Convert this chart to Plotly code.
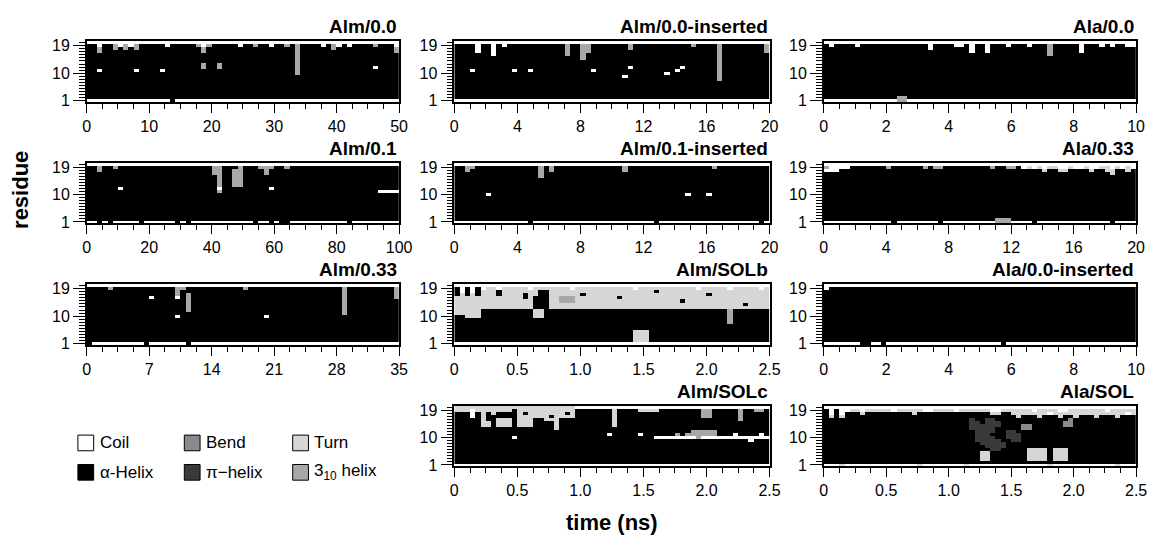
import plotly.graph_objects as go

# ---------------- data ----------------
STATE_CODES = ["C", "B", "T", "H", "P", "G"]
STATE_NAMES = ["Coil", "Bend", "Turn", "α-Helix", "π−helix", "3<sub>10</sub> helix"]
STATE_COLORS = ["#ffffff", "#8a8a8a", "#d6d6d6", "#000000", "#3a3a3a", "#a8a8a8"]

PANEL_TITLES = ["Alm/0.0", "Alm/0.0-inserted", "Ala/0.0",
                "Alm/0.1", "Alm/0.1-inserted", "Ala/0.33",
                "Alm/0.33", "Alm/SOLb", "Ala/0.0-inserted",
                "Alm/SOLc", "Ala/SOL"]
PANEL_TMAX = [50, 20, 10, 100, 20, 20, 35, 2.5, 10, 2.5, 2.5]
PANEL_DTICK = [10, 4, 2, 20, 4, 4, 7, 0.5, 2, 0.5, 0.5]
RESIDUE_TICKS = [1, 10, 19]

# each panel: rows of DSSP states, residue 20 (top) down to residue 1, time left->right
H60 = "HHHHHHHHHH HHHHHHHHHH HHHHHHHHHH HHHHHHHHHH HHHHHHHHHH HHHHHHHHHH"
C60 = "CCCCCCCCCC CCCCCCCCCC CCCCCCCCCC CCCCCCCCCC CCCCCCCCCC CCCCCCCCCC"

ALM_00 = [
    C60,
    "HHCHHGCGCG HHHHHCHHHH HGCGHHHHHC HHGHHCHHGH GHHHHCHGCH CHHHHGHHHC",
    "HHGHHGHGHG HHHHHHHHHH HHGHHHHHHH HHHHHHHHHH GHHHHHHGHH HHHHHHHHHG",
    "HHGHHHHHHH HHHHHHHHHH HHGHHHHHHH HHHHHHHHHH GHHHHHHHHH HHHHHHHHHG",
    "HHHHHHHHHH HHHHHHHHHH HHHHHHHHHH HHHHHHHHHH GHHHHHHHHH HHHHHHHHHH",
    "HHHHHHHHHH HHHHHHHHHH HHHHHHHHHH HHHHHHHHHH GHHHHHHHHH HHHHHHHHHH",
    "HHHHHHHHHH HHHHHHHHHH HHHHHHHHHH HHHHHHHHHH GHHHHHHHHH HHHHHHHHHH",
    "HHHHHHHHHH HHHHHHHHHH HHGHHGHHHH HHHHHHHHHH GHHHHHHHHH HHHHHHHHHH",
    "HHHHHHHHHH HHHHHHHHHH HHGHHGHHHH HHHHHHHHHH GHHHHHHHHH HHHHHCHHHH",
    "HHCHHHHHHC HHHHCHHHHH HHHHHHHHHH HHHHHHHHHH GHHHHHHHHH HHHHHHHHHH",
    "HHHHHHHHHH HHHHHHHHHH HHHHHHHHHH HHHHHHHHHH GHHHHHHHHH HHHHHHHHHH",
    H60, H60, H60, H60, H60, H60, H60, H60,
    "CCCCCCCCCC CCCCCCHCCC CCCCCCCCCC CCCCCCCCCC CCCCCCCCCC CCCCCCCCCC",
]

ALM_00_INS = [
    C60,
    "HHHHCHHCHC HHHHHHHHHH HGHHGGHHHH HHHGHHHHHH HHHHHGHHHH GHHHHHHHHG",
    "HHHHCHHCHH HHHHHHHHHH HGHHGGHHHH HHHGHHHHHH HHHHHHHHHH GHHHHHHHHG",
    "HHHHCHHCHH HHHHHHHHHH HGHHGGHHHH HHHHHHHHHH HHHHHHHHHH GHHHHHHHHG",
    "HHHHHHHCHH HHHHHHHHHH HGHHGHHHHH HHHHHHHHHH HHHHHHHHHH GHHHHHHHHH",
    "HHHHHHHHHH HHHHHHHHHH HHHHGHHHHH HHHHHHHHHH HHHHHHHHHH GHHHHHHHHH",
    "HHHHHHHHHH HHHHHHHHHH HHHHHHHHHH HHHHHHHHHH HHHHHHHHHH GHHHHHHHHH",
    "HHHHHHHHHH HHHHHHHHHH HHHHHHHHHH HHHHHHHHHH HHHHHHHHHH GHHHHHHHHH",
    "HHHHHHHHHH HHHHHHHHHH HHHHHHHHHH HHHCHHHHHH HHHCHHHHHH GHHHHHHHHH",
    "HHHCHHHHHH HCHHCHHHHH HHHHHHCHHH HHHHHHHHHH HHCHHHHHHH GHHHHHHHHH",
    "HHHHHHHHHH HHHHHHHHHH HHHHHHHHHH HHHHHHHHHH CHHHHHHHHH GHHHHHHHHH",
    "HHHHHHHHHH HHHHHHHHHH HHHHHHHHHH HHCHHHHHHH HHHHHHHHHH GHHHHHHHHH",
    "HHHHHHHHHH HHHHHHHHHH HHHHHHHHHH HHHHHHHHHH HHHHHHHHHH GHHHHHHHHH",
    H60, H60, H60, H60, H60, H60,
    C60,
]

ALA_00 = [
    C60,
    "HCHHHHCHHH HHHHHHHHHH CHHHHCCHCH HCHHHCHHHC HHHGHHHHHC HHHCHCHHCC",
    "HHHHHHHHHH HHHHHHHHHH CHHHHHHHCH HCHHHHHHHH HHHGHHHHHC HHHHHHHHHH",
    "HHHHHHHHHH HHHHHHHHHH HHHHHHHHCH HCHHHHHHHH HHHGHHHHHC HHHHHHHHHH",
    "HHHHHHHHHH HHHHHHHHHH HHHHHHHHHH HHHHHHHHHH HHHGHHHHHH HHHHHHHHHH",
    H60, H60, H60, H60, H60, H60, H60, H60, H60, H60, H60, H60, H60,
    "HHHHHHHHHH HHHHGGHHHH HHHHHHHHHH HHHHHHHHHH HHHHHHHHHH HHHHHHHHHH",
    "CCCCCCCCCC CCCCGGCCCC CCCCCCCCCC CCCCCCCCCC CCCCCCCCCC CCCCCCCCCC",
]

ALM_01 = [
    C60,
    "HHGHHGHHHH HHHHHHHHHH HHHHGGHHHG HHHGGGHHGH HHHHHHHHHH HHHHHHHHHH",
    "HHGHHHHHHH HHHHHHHHHH HHHHGGHHGG HHHHGHHHHH HHHHHHHHHH HHHHHHHHHH",
    "HHHHHHHHHH HHHHHHHHHH HHHHGGHHGG HHHHGHHHHH HHHHHHHHHH HHHHHHHHHH",
    "HHHHHHHHHH HHHHHHHHHH HHHHHGHHGG HHHHHHHHHH HHHHHHHHHH HHHHHHHHHH",
    "HHHHHHHHHH HHHHHHHHHH HHHHHGHHGG HHHHHHHHHH HHHHHHHHHH HHHHHHHHHH",
    "HHHHHHHHHH HHHHHHHHHH HHHHHGHHGG HHHHHHHHHH HHHHHHHHHH HHHHHHHHHH",
    "HHHHHHHHHH HHHHHHHHHH HHHHHGHHGG HHHHHHHHHH HHHHHHHHHH HHHHHHHHHH",
    "HHHHHHCHHH HHHHHHHHHH HHHHHCHHHH HHHHHCHHHH HHHHHHHHHH HHHHHHHHHH",
    "HHHHHHHHHH HHHHHHHHHH HHHHHGHHHH HHHHHHHHHH HHHHHHHHHH HHHHHHCCCC",
    H60,
    H60, H60, H60, H60, H60, H60, H60, H60,
    "CCHCHCCCCC HCCCCCCHCH CCCCCCCCCC CCHCCHCHHC CCCCCCCCCC HCCCCCCCCC",
]

ALM_01_INS = [
    C60,
    "HHGGHHHHHH HHHHHHGHGH HHHHHHHHHH HHGHHHHHHH HHHHHHHHHG HHHHHHHHHH",
    "HHGHHHHHHH HHHHHHGHGH HHHHHHHHHH HHGHHHHHHH HHHHHHHHHH HHHHHHHHHH",
    "HHHHHHHHHH HHHHHHGHHH HHHHHHHHHH HHHHHHHHHH HHHHHHHHHH HHHHHHHHHH",
    "HHHHHHHHHH HHHHHHGHHH HHHHHHHHHH HHHHHHHHHH HHHHHHHHHH HHHHHHHHHH",
    H60, H60, H60, H60, H60,
    "HHHHHHCHHH HHHHHHHHHH HHHHHHHHHH HHHHHHHHHH HHHHCHHHCH HHHHHHHHHH",
    H60, H60, H60, H60, H60, H60, H60, H60,
    "CCCCCCCCCC CCCCHCCCCC CCCCCCCCCC CCCCCCCCHC CCCCCCCCCC CCCCCCCCHC",
]

ALA_033 = [
    C60,
    "GCCCCHHHHH HHGHHHHHHG HGGHHHHHHH HHGHHGGHCT CTCTTCCTCC TCCTTCTCTC",
    "CCCHHHHHHH HHHHHHHHHH HHHHHHHHHH HHHHHHHHHH HHTHHTTHHH HTHHTTHHTH",
    "HHHHHHHHHH HHHHHHHHHH HHHHHHHHHH HHHHHHHHHH HHHHHHHHHH HHHHHTHHHH",
    H60, H60, H60, H60, H60, H60, H60, H60, H60, H60, H60, H60, H60, H60,
    "HHHHHHHHHH HHHHHHHHHH HHHHHHHHHH HHHGGGHHHH HHHHHHHHHH HHHHHHHHHH",
    "CCCCCCCCCC CCCHCCCCCC CCHCCCCCCC CCCGGGCCCC HCCCCCCCCC CCCCCHCCCC",
]

ALM_033 = [
    C60,
    "HHHHGHHHHH HHHHHHHGGH HHHHHHHHHH GHHHHHHHHH HHHHHHHHHG HHHHHHHHHG",
    "HHHHHHHHHH HHHHHHHGHH HHHHHHHHHH HHHHHHHHHH HHHHHHHHHG HHHHHHHHHG",
    "HHHHHHHHHH HHHHHHHGHG HHHHHHHHHH HHHHHHHHHH HHHHHHHHHG HHHHHHHHHG",
    "HHHHHHHHHH HHCHHHHCHG HHHHHHHHHH HHHHHHHHHH HHHHHHHHHG HHHHHHHHHG",
    "HHHHHHHHHH HHHHHHHHHG HHHHHHHHHH HHHHHHHHHH HHHHHHHHHG HHHHHHHHHH",
    "HHHHHHHHHH HHHHHHHHHG HHHHHHHHHH HHHHHHHHHH HHHHHHHHHG HHHHHHHHHH",
    "HHHHHHHHHH HHHHHHHHHG HHHHHHHHHH HHHHHHHHHH HHHHHHHHHG HHHHHHHHHH",
    "HHHHHHHHHH HHHHHHHHHG HHHHHHHHHH HHHHHHHHHH HHHHHHHHHG HHHHHHHHHH",
    "HHHHHHHHHH HHHHHHHHHH HHHHHHHHHH HHHHHHHHHH HHHHHHHHHG HHHHHHHHHH",
    "HHHHHHHHHH HHHHHHHCHH HHHHHHHHHH HHHHCHHHHH HHHHHHHHHH HHHHHHHHHH",
    H60, H60, H60, H60, H60, H60, H60, H60,
    "HCCCCCCCCC CHCCCCCCCH CCCCCCCCCC CCCCCCCCCC CCCCCCCCCC CCCCCCCCCC",
]

ALM_SOLB = [
    C60,
    "HCHCHCTTCT TTTTCTTTTT TTCTTTTTTT TTTTCTTTTT TTTTTTCTTT TTCTTTTTCT",
    "HCHCHTTTHT TTTTTTHHTT TTTTTTTTTT TTTTTTTTHT TTTTTTTTTT TTTTTTTTTT",
    "HTHTHTTTHT TTTHTTHHTT TTTTHTTTTT TTTTTTTTTT TTTTTTTTHT TTTTTTTTTT",
    "TTTTTTTTTT TTTHTHHHTT GGGTTTTTTT THTTTTTTTT TTTTTTTTTT TTTTTTTTTT",
    "TTTTTTTTTT TTTTTHHHTT GGGTTTTTTT TTTTTTTTTT TTTHTTTTTT TTTTTTTTTT",
    "TTTTTTTTTT TTTTTHHHTT TTTTTTTTTT TTTTTTTTTT TTTTTTTTTT TTTTTHTTTT",
    "TTTTTTTTTT TTTTTHHHTT TTTTTTTTTT TTTTTTTTTT TTTTTTTTTT TTTTTTTTTT",
    "TTTTTHHHHH HHHHHTTHHH HHHHHHHHHH HHHHHHHHHH HHHHHHHHHH HHGHHHHHHH",
    "TTTTTHHHHH HHHHHTTHHH HHHHHHHHHH HHHHHHHHHH HHHHHHHHHH HHGHHHHHHH",
    "HHTTTHHHHH HHHHHTTHHH HHHHHHHHHH HHHHHHHHHH HHHHHHHHHH HHGHHHHHHH",
    "HHHHHHHHHH HHHHHHHHHH HHHHHHHHHH HHHHHHHHHH HHHHHHHHHH HHGHHHHHHH",
    "HHHHHHHHHH HHHHHHHHHH HHHHHHHHHH HHHHHHHHHH HHHHHHHHHH HHGHHHHHHH",
    H60, H60,
    "HHHHHHHHHH HHHHHHHHHH HHHHHHHHHH HHHHTTTHHH HHHHHHHHHH HHHHHHHHHH",
    "HHHHHHHHHH HHHHHHHHHH HHHHHHHHHH HHHHTTTHHH HHHHHHHHHH HHHHHHHHHH",
    "HHHHHHHHHH HHHHHHHHHH HHHHHHHHHH HHHHTTTHHH HHHHHHHHHH HHHHHHHHHH",
    "HHHHHHHHHH HHHHHHHHHH HHHHHHHHHH HHHHTTTHHH HHHHHHHHHH HHHHHHHHHH",
    C60,
]

ALA_00_INS = [
    C60,
    "CHHHHHHHHH HHHHHHHHHH HHHHHHHHHH HHHHHHHHHH HHHHHHHHHH HHHHHHHHHH",
    H60, H60, H60, H60, H60, H60, H60, H60, H60, H60, H60, H60, H60, H60, H60, H60, H60,
    "CCCCCCCHHC CHCCCCCCCC CCCCCCCCCC CCCCHCCCCC CCCCCCCCCC CCCCCCCCCC",
]

ALM_SOLC = [
    "TTTTTTTTTT TTTTTTTTTT TTTCCCCCCC CCCCCCCCCC CCCCCCCCCC CCCCCCCCCC",
    "TTTCTTTTTT THTTTTTTTT TTTHHHHHHH THHHHTTTTH HHHHHHHGGH HHHHGHHGGH",
    "HHHCHTHTHH HHTHTTTTTT THTHHHHHHH THHHHHHHHH HHHHHHHGGH HHHHGHHHHH",
    "HHHCHTHHHH HHTTTTTTHT TTTHHHHHHH THHHHHHHHH HHHHHHHGGH HHHHGHHHHH",
    "HHHHHTHHTT THTTTHHTTT HHHHHHHHHH THHHHHHHHH HHHHHHHHHH HHHHGHHHHH",
    "HHHHHTTHTT THTTTHHHHT HHHHHHHHHH THHHHHHHHH HHHHHHHHHH HHHHHHHHHH",
    "HHHHHTTHTT THTTTHHHHT HHHHHHHHHH THHHHHHHHH HHHHHHHHHH HHHHHHHHHH",
    "HHHHHHHHHH HHHHHHHHHT HHHHHHHHHH HHHHHHHHHH HHHHHHHHHH HHHHHHHHHH",
    "HHHHHHHHHH HHHHHHHHHH HHHHHHHHHH HHHHHHHHHH HHHHHGGGGG HHHHHHHHHH",
    "HHHHHHHHHH HHHHHHHHHH HHHHHHHHHC HHHHHCHHHH HHGHGGGGGG HHHCHHHHCH",
    "HHHHHHHHHH HCHHHHHHHH HHHHHHHHHH HHHHHHHHCC CCCCCCGCCC CCCCCCCCCC",
    "HHHHHHHHHH HHHHHHHHHH HHHHHHHHHH HHHHHHHHHH HHHHHHHHHH HHHHHHCHHH",
    H60, H60, H60, H60, H60, H60, H60,
    C60,
]

ALA_SOL = [
    C60,
    "HCHCCTTCTT TTTCTTTTTC CTTTTCTTTT TTCCTTTTTT CTTTTCCTTT TTTTCTTTTT",
    "HCHCHHHTHH HHHHHHHTHH HHHHHHHHHH HHTTHHTTTT TTTCTTTTTT TTTTTTTTCT",
    "HTHTHHHHHH HHHHHHHHHH HHHHHHHHHH HHHHHHHTHH HTHHHTHHTH HHTHHHTHHH",
    "HHHHHHHHHH HHHHHHHHHH HHHHHHHHPH HPPHHHHHHH HHHHHHHBHH HHHHHHHHHH",
    "HHHHHHHHHH HHHHHHHHHH HHHHHHHHPP HPPPHHHHHH HHHHHHBBHH HHHHHHHHHH",
    "HHHHHHHHHH HHHHHHHHHH HHHHHHHHPP PPPPHHHHBB HHHHHHBBHH HHHHHHHHHH",
    "HHHHHHHHHH HHHHHHHHHH HHHHHHHHPP PPPHHHHHBB HHHHHHHHHH HHHHHHHHHH",
    "HHHHHHHHHH HHHHHHHHHH HHHHHHHHHP PPPHHPPHHH HHHHHHHHHH HHHHHHHHHH",
    "HHHHHHHHHH HHHHHHHHHH HHHHHHHHHP PPHHHPPPHH HHHHHHHHHH HHHHHHHHHH",
    "HHHHHHHHHH HHHHHHHHHH HHHHHHHHHP PPPHHPPPHH HHHHHHHHHH HHHHHHHHHH",
    "HHHHHHHHHH HHHHHHHHHH HHHHHHHHHP PPPPHHPPHH HHHHHHHHHH HHHHHHHHHH",
    "HHHHHHHHHH HHHHHHHHHH HHHHHHHHHH PPPPPHHHHH HHHHHHHHHH HHHHHHHHHH",
    "HHHHHHHHHH HHHHHHHHHH HHHHHHHHHH HPPPPHHHHH HHHHHHHHHH HHHHHHHHHH",
    "HHHHHHHHHH HHHHHHHHHH HHHHHHHHHH HHPPHHHHHT TTTHTTTHHH HHHHHHHHHH",
    "HHHHHHHHHH HHHHHHHHHH HHHHHHHHHH TTHHHHHHHT TTTHTTTHHH HHHHHHHHHH",
    "HHHHHHHHHH HHHHHHHHHH HHHHHHHHHH TTHHHHHHHT TTTHTTTHHH HHHHHHHHHH",
    "HHHHHHHHHH HHHHHHHHHH HHHHHHHHHH TTHHHHHHHT TTTHTTTHHH HHHHHHHHHH",
    H60,
    "CCCTCCCCCC CCCCCCCCTC CCCCCCCTCC CCCCCCCCCC CCCTCCCCCC CCCCCCTCCC",
]

PANEL_ROWS = [ALM_00, ALM_00_INS, ALA_00, ALM_01, ALM_01_INS, ALA_033,
              ALM_033, ALM_SOLB, ALA_00_INS, ALM_SOLC, ALA_SOL]

# ---------------- layout (positions in px of a 1157x544 canvas) ----------------
W, HGT = 1157, 544
COL_PX = [(84, 401), (457, 777), (832, 1149)]
ROW_PX = [(38, 100), (162, 224), (286, 348), (410, 472)]
PANEL_CELL = [(0, 0), (1, 0), (2, 0), (0, 1), (1, 1), (2, 1), (0, 2), (1, 2), (2, 2), (1, 3), (2, 3)]

FONT = "Liberation Sans, Arial, Helvetica, sans-serif"
NCAT = len(STATE_CODES)
colorscale = []
for i, c in enumerate(STATE_COLORS):
    colorscale.append([i / NCAT, c])
    colorscale.append([(i + 1) / NCAT, c])
code_idx = {c: i for i, c in enumerate(STATE_CODES)}


def rows_to_z(rows):
    clean = [r.replace(" ", "") for r in rows]
    n = max(len(r) for r in clean)
    z = []
    for r in reversed(clean):  # residue 1 first
        r = (r + "H" * n)[:n]
        z.append([code_idx[ch] for ch in r])
    return z, n


fig = go.Figure()
annotations = []
shapes = []

for k, (title, tmax, dt, rows, cell) in enumerate(
        zip(PANEL_TITLES, PANEL_TMAX, PANEL_DTICK, PANEL_ROWS, PANEL_CELL), start=1):
    z, n = rows_to_z(rows)
    xa = "x" if k == 1 else f"x{k}"
    ya = "y" if k == 1 else f"y{k}"
    fig.add_trace(go.Heatmap(
        z=z, x0=tmax / (2 * n), dx=tmax / n, y0=1, dy=1,
        zmin=-0.5, zmax=NCAT - 0.5, colorscale=colorscale, showscale=False,
        hoverinfo="skip", xaxis=xa, yaxis=ya))
    c, r = cell
    x0, x1 = COL_PX[c]
    t0, b0 = ROW_PX[r]
    xdom = [x0 / W, x1 / W]
    ydom = [1 - b0 / HGT, 1 - t0 / HGT]
    nt = int(round(tmax / dt))
    tickvals = [dt * j for j in range(nt + 1)]
    if dt < 1:
        ticktext = ["0"] + [f"{v:.1f}" for v in tickvals[1:]]
    else:
        ticktext = [f"{v:g}" for v in tickvals]
    axis_common = dict(showline=True, linecolor="black", linewidth=1.5, mirror=True,
                       showgrid=False, zeroline=False, ticks="outside",
                       tickcolor="black", tickwidth=1.3, fixedrange=True,
                       tickfont=dict(size=16, color="black", family=FONT))
    fig.update_layout(**{
        ("xaxis" if k == 1 else f"xaxis{k}"): dict(
            domain=xdom, anchor=ya, range=[0, tmax], tickmode="array",
            tickvals=tickvals, ticktext=ticktext, ticklen=9,
            minor=dict(tickmode="linear", tick0=0, dtick=dt / 4, ticks="outside",
                       ticklen=5, tickwidth=1, tickcolor="black", showgrid=False),
            **axis_common),
        ("yaxis" if k == 1 else f"yaxis{k}"): dict(
            domain=ydom, anchor=xa, range=[0.5, 20.5], tickmode="array",
            tickvals=RESIDUE_TICKS, ticktext=[str(v) for v in RESIDUE_TICKS], ticklen=12,
            minor=dict(tickmode="linear", tick0=1, dtick=1, ticks="outside",
                       ticklen=6, tickwidth=1, tickcolor="black", showgrid=False),
            **axis_common),
    })
    annotations.append(dict(
        text=f"<b>{title}</b>", xref="paper", yref="paper", x=xdom[1], y=ydom[1] + 2 / HGT,
        xanchor="right", yanchor="bottom", showarrow=False,
        font=dict(size=19, color="black", family=FONT)))

# axis titles
annotations.append(dict(text="<b>residue</b>", xref="paper", yref="paper",
                        x=16 / W, y=1 - 190 / HGT, textangle=-90, showarrow=False,
                        xanchor="center", yanchor="middle",
                        font=dict(size=22, color="black", family=FONT)))
annotations.append(dict(text="<b>time (ns)</b>", xref="paper", yref="paper",
                        x=617 / W, y=1 - 529 / HGT, showarrow=False,
                        xanchor="center", yanchor="middle",
                        font=dict(size=22, color="black", family=FONT)))

# legend (bottom-left)
LEG_X = [75, 183, 293]
LEG_Y = [448, 478]
BOX = 16
for i, (name, col) in enumerate(zip(STATE_NAMES, STATE_COLORS)):
    lx = LEG_X[i % 3]
    ly = LEG_Y[i // 3]
    shapes.append(dict(type="rect", xref="paper", yref="paper",
                       x0=lx / W, x1=(lx + BOX) / W,
                       y0=1 - (ly + BOX / 2) / HGT, y1=1 - (ly - BOX / 2) / HGT,
                       fillcolor=col, line=dict(color="black", width=1)))
    annotations.append(dict(text=name, xref="paper", yref="paper",
                            x=(lx + BOX + 4) / W, y=1 - ly / HGT,
                            xanchor="left", yanchor="middle", showarrow=False,
                            font=dict(size=17, color="black", family=FONT)))

fig.update_layout(width=W, height=HGT, margin=dict(l=0, r=0, t=0, b=0),
                  paper_bgcolor="white", plot_bgcolor="white",
                  annotations=annotations, shapes=shapes, showlegend=False,
                  font=dict(family=FONT, color="black"))

fig.write_html("out.html", config={"displayModeBar": False},
               post_script="document.body.style.margin='0px';")
